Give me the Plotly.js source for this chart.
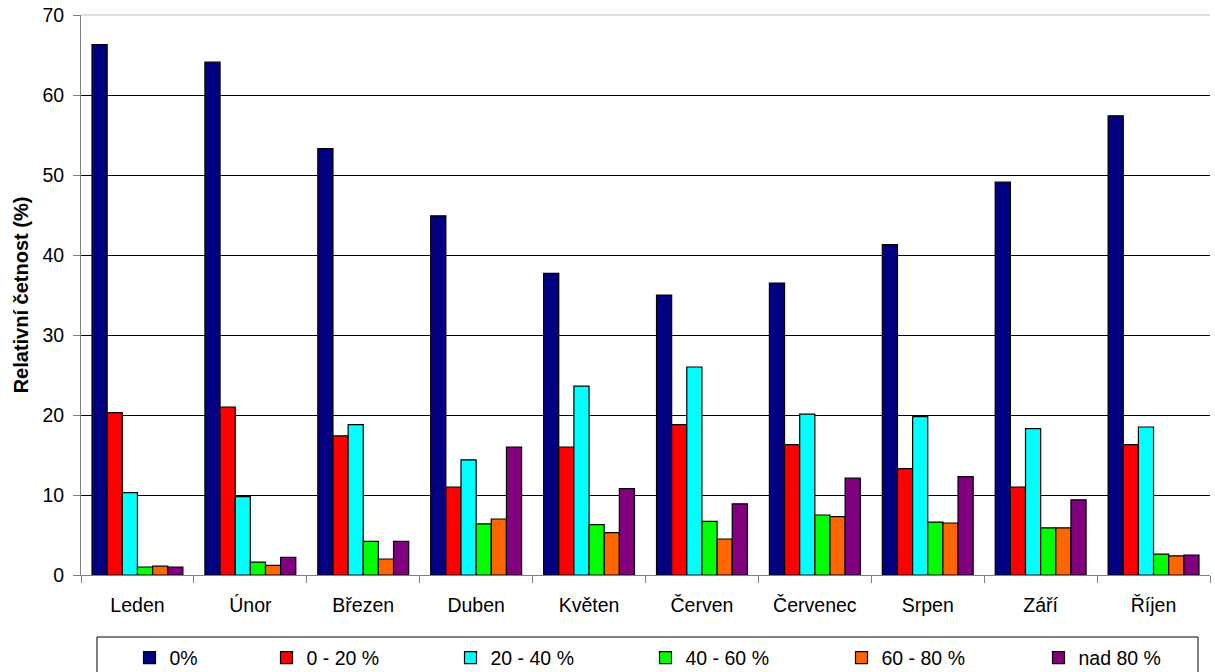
<!DOCTYPE html>
<html>
<head>
<meta charset="utf-8">
<script src="https://cdn.plot.ly/plotly-3.0.1.min.js"></script>
<style>
  html, body { margin: 0; padding: 0; background: #fff; }
  #chart { width: 1215px; height: 672px; }
</style>
</head>
<body>
<div id="chart"></div>
<script>
// Months on the category axis
const months = ['Leden', 'Únor', 'Březen', 'Duben', 'Květen', 'Červen', 'Červenec', 'Srpen', 'Září', 'Říjen'];

// Relative frequency (%) per class, one value per month
const s0      = [66.3, 64.1, 53.3, 44.9, 37.7, 35.0, 36.5, 41.3, 49.1, 57.4];
const s0_20   = [20.3, 21.0, 17.4, 11.0, 16.0, 18.8, 16.3, 13.3, 11.0, 16.3];
const s20_40  = [10.3,  9.8, 18.8, 14.4, 23.6, 26.0, 20.1, 19.8, 18.3, 18.5];
const s40_60  = [ 1.0,  1.6,  4.2,  6.4,  6.3,  6.7,  7.5,  6.6,  5.9,  2.6];
const s60_80  = [ 1.1,  1.2,  2.0,  7.0,  5.3,  4.5,  7.3,  6.5,  5.9,  2.4];
const s80     = [ 1.0,  2.2,  4.2, 16.0, 10.8,  8.9, 12.1, 12.3,  9.4,  2.5];

const seriesNames = ['0%', '0 - 20 %', '20 - 40 %', '40 - 60 %', '60 - 80 %', 'nad 80 %'];
const seriesValues = [s0, s0_20, s20_40, s40_60, s60_80, s80];
const seriesColors = ['#000080', '#FF0000', '#00FFFF', '#00FF00', '#FF6600', '#800080'];

// Plot area in pixels (used to place the legend row in paper units)
const plotLeft = 81, plotRight = 1210, plotTop = 15, plotBottom = 575;
const plotW = plotRight - plotLeft, plotH = plotBottom - plotTop;
const px2x = p => (p - plotLeft) / plotW;
const py2y = p => (plotBottom - p) / plotH;

// Left edge of each legend entry
const legendLeft = [129.5, 266.5, 450.5, 645.5, 841.5, 1038.5];

const font = { family: 'Liberation Sans, Arial, sans-serif', size: 19.5, color: '#000' };

const traces = seriesNames.map((name, i) => ({
  type: 'bar',
  name: name,
  x: months,
  y: seriesValues[i],
  marker: { color: seriesColors[i], line: { color: '#000', width: 1.2 } },
  legend: i === 0 ? 'legend' : 'legend' + (i + 1),
  hoverinfo: 'x+y+name'
}));

const layout = {
  width: 1215,
  height: 672,
  margin: { l: plotLeft, r: 1215 - plotRight, t: plotTop, b: 672 - plotBottom, autoexpand: false },
  paper_bgcolor: '#fff',
  plot_bgcolor: '#fff',
  font: font,
  barmode: 'group',
  bargap: 0.195,
  bargroupgap: 0,
  xaxis: {
    type: 'category',
    showgrid: false,
    showline: true,
    linecolor: '#808080',
    linewidth: 1,
    ticks: 'outside',
    tickson: 'boundaries',
    ticklen: 7,
    tickcolor: '#808080',
    tickfont: font,
    ticklabelstandoff: 13,
    zeroline: false
  },
  yaxis: {
    range: [0, 70],
    dtick: 10,
    showgrid: true,
    gridcolor: '#000',
    gridwidth: 1,
    showline: true,
    linecolor: '#808080',
    linewidth: 1,
    ticks: 'outside',
    ticklen: 7,
    tickcolor: '#808080',
    tickfont: font,
    ticklabelstandoff: 5,
    zeroline: false,
    title: {
      text: '<b>Relativní četnost (%)</b>',
      font: { family: font.family, size: 20, color: '#000' },
      standoff: 8
    }
  },
  shapes: [
    // light plot-area border along the top
    { type: 'line', xref: 'paper', yref: 'paper', x0: 0, x1: 1, y0: 1, y1: 1,
      line: { color: '#d4d4d4', width: 1.5 }, layer: 'above' },
    // frame around the legend row
    { type: 'rect', xref: 'paper', yref: 'paper',
      x0: px2x(97), x1: px2x(1198), y0: py2y(637), y1: py2y(690),
      line: { color: '#000', width: 1 }, fillcolor: 'rgba(0,0,0,0)' }
  ],
  showlegend: true
};

// One single-entry legend per series, laid out in a row
legendLeft.forEach((p, i) => {
  const key = i === 0 ? 'legend' : 'legend' + (i + 1);
  layout[key] = {
    x: px2x(p),
    xanchor: 'left',
    y: py2y(658),
    yanchor: 'middle',
    orientation: 'h',
    bgcolor: 'rgba(0,0,0,0)',
    borderwidth: 0,
    font: font
  };
});

Plotly.newPlot('chart', traces, layout, { displayModeBar: false, staticPlot: true });
</script>
</body>
</html>
